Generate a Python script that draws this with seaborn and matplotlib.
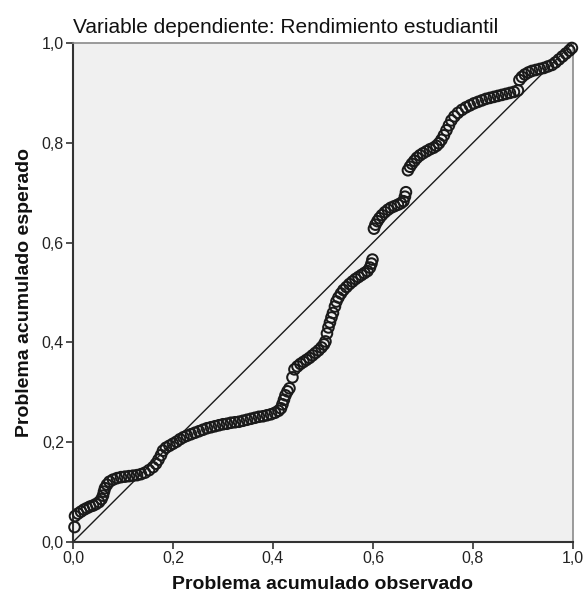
#!/usr/bin/env python3
"""P-P plot of regression residuals: observed vs expected cumulative probability."""

import matplotlib
matplotlib.use("Agg")
import matplotlib.pyplot as plt
import seaborn as sns
import pandas as pd
from matplotlib.ticker import FuncFormatter

# Observed cumulative probability (x) and expected cumulative probability (y)
observed = [
    0.003, 0.004, 0.010, 0.016, 0.022, 0.028, 0.034, 0.040, 0.046, 0.052,
    0.057, 0.060, 0.062, 0.064, 0.068, 0.073, 0.080, 0.088, 0.096, 0.104,
    0.112, 0.120, 0.128, 0.136, 0.144, 0.152, 0.160, 0.166, 0.171, 0.176,
    0.180, 0.186, 0.193, 0.200, 0.207, 0.214, 0.221, 0.228, 0.236, 0.244,
    0.252, 0.260, 0.268, 0.276, 0.284, 0.292, 0.300, 0.308, 0.316, 0.324,
    0.332, 0.340, 0.348, 0.356, 0.364, 0.372, 0.380, 0.388, 0.396, 0.404,
    0.411, 0.416, 0.419, 0.422, 0.425, 0.429, 0.433, 0.439, 0.443, 0.449,
    0.455, 0.461, 0.467, 0.473, 0.479, 0.485, 0.491, 0.497, 0.502, 0.505,
    0.508, 0.511, 0.514, 0.517, 0.520, 0.524, 0.527, 0.531, 0.536, 0.541,
    0.547, 0.553, 0.559, 0.565, 0.571, 0.577, 0.583, 0.589, 0.594, 0.597,
    0.599, 0.602, 0.605, 0.609, 0.613, 0.618, 0.624, 0.630, 0.636, 0.643,
    0.650, 0.656, 0.661, 0.664, 0.666, 0.670, 0.674, 0.678, 0.683, 0.688,
    0.694, 0.700, 0.707, 0.714, 0.721, 0.727, 0.732, 0.737, 0.742, 0.747,
    0.752, 0.757, 0.763, 0.770, 0.778, 0.786, 0.794, 0.802, 0.810, 0.818,
    0.826, 0.834, 0.842, 0.850, 0.858, 0.866, 0.874, 0.882, 0.890, 0.893,
    0.898, 0.904, 0.911, 0.918, 0.926, 0.934, 0.942, 0.950, 0.958, 0.965,
    0.972, 0.979, 0.986, 0.993, 0.998,
]
expected = [
    0.030, 0.052, 0.057, 0.061, 0.065, 0.068, 0.071, 0.073, 0.076, 0.080,
    0.086, 0.093, 0.101, 0.108, 0.115, 0.121, 0.125, 0.128, 0.130, 0.131,
    0.132, 0.133, 0.134, 0.136, 0.139, 0.144, 0.150, 0.157, 0.165, 0.174,
    0.183, 0.189, 0.193, 0.197, 0.201, 0.206, 0.210, 0.213, 0.216, 0.219,
    0.222, 0.225, 0.228, 0.230, 0.232, 0.234, 0.236, 0.237, 0.239, 0.240,
    0.241, 0.243, 0.245, 0.247, 0.249, 0.251, 0.252, 0.254, 0.256, 0.259,
    0.263, 0.268, 0.276, 0.285, 0.294, 0.302, 0.308, 0.330, 0.346, 0.352,
    0.357, 0.361, 0.365, 0.369, 0.374, 0.379, 0.384, 0.390, 0.396, 0.402,
    0.418, 0.430, 0.440, 0.450, 0.459, 0.472, 0.482, 0.490, 0.498, 0.505,
    0.511, 0.517, 0.522, 0.527, 0.531, 0.535, 0.539, 0.543, 0.550, 0.558,
    0.566, 0.628, 0.636, 0.643, 0.649, 0.655, 0.661, 0.666, 0.670, 0.673,
    0.676, 0.679, 0.683, 0.692, 0.701, 0.745, 0.752, 0.758, 0.764, 0.770,
    0.775, 0.779, 0.783, 0.787, 0.790, 0.794, 0.799, 0.806, 0.815, 0.825,
    0.835, 0.845, 0.853, 0.860, 0.866, 0.871, 0.875, 0.879, 0.882, 0.885,
    0.888, 0.890, 0.892, 0.894, 0.896, 0.898, 0.900, 0.902, 0.905, 0.926,
    0.932, 0.937, 0.941, 0.944, 0.946, 0.948, 0.950, 0.953, 0.956, 0.961,
    0.967, 0.973, 0.979, 0.985, 0.990,
]
ticks = [0.0, 0.2, 0.4, 0.6, 0.8, 1.0]

sns.set_style("ticks")
plt.rcParams["font.family"] = ["Liberation Sans", "DejaVu Sans"]

df = pd.DataFrame({"observed": observed, "expected": expected})

fig = plt.figure(figsize=(5.84, 6.04), dpi=100)
ax = fig.add_axes([0.125, 0.1026, 0.856, 0.8262])
ax.set_facecolor("#f0f0f0")

# Reference line
ax.plot([0, 1], [0, 1], color="#1a1a1a", linewidth=1.0, zorder=2)

sns.scatterplot(
    data=df, x="observed", y="expected", ax=ax,
    s=58, facecolor="none", edgecolor="#1a1a1a", linewidth=1.45,
    zorder=3, clip_on=False,
)

ax.set_xlim(0, 1)
ax.set_ylim(0, 1)
ax.set_xticks(ticks)
ax.set_yticks(ticks)
fmt = FuncFormatter(lambda v, _: f"{v:.1f}".replace(".", ","))
ax.xaxis.set_major_formatter(fmt)
ax.yaxis.set_major_formatter(fmt)
ax.tick_params(axis="both", direction="out", length=5, width=1.2,
               color="#333333", labelsize=11.5, labelcolor="#222222", pad=1.5)

for side in ["left", "bottom"]:
    ax.spines[side].set_color("#333333")
    ax.spines[side].set_linewidth(1.5)
for side in ["top", "right"]:
    ax.spines[side].set_visible(True)
    ax.spines[side].set_color("#8a8a8a")
    ax.spines[side].set_linewidth(1.2)

ax.set_xlabel("Problema acumulado observado", fontsize=14, fontweight="bold",
              labelpad=7, color="#111111")
ax.set_ylabel("Problema acumulado esperado", fontsize=14, fontweight="bold",
              labelpad=6, color="#111111")
ax.set_title("Variable dependiente: Rendimiento estudiantil", loc="left",
             fontsize=15, pad=7, color="#111111")

fig.savefig("out.png", dpi=100, facecolor="white")
plt.close(fig)
